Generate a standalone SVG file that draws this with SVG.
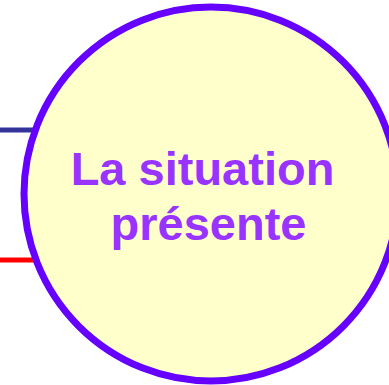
<svg xmlns="http://www.w3.org/2000/svg" width="389" height="385" viewBox="0 0 389 385">
<style>
.conn{fill:none;stroke-width:5}
.node{fill:#ffffcc;stroke:#6600ff;stroke-width:7}
.label{font-family:"Liberation Sans",Arial,sans-serif;font-weight:bold;font-size:47px;fill:#9933ff;text-anchor:middle}
</style>
<rect width="389" height="385" fill="#ffffff"/>
<g id="connectors">
<line class="conn" x1="0" y1="130" x2="40" y2="130" stroke="#333399"/>
<line class="conn" x1="0" y1="260" x2="40" y2="260" stroke="#ff0000"/>
</g>
<g id="node-situation">
<circle class="node" cx="211" cy="194" r="187"/>
<text class="label" x="202.5" y="185">La situation</text>
<text class="label" x="208.5" y="240">présente</text>
</g>
</svg>
